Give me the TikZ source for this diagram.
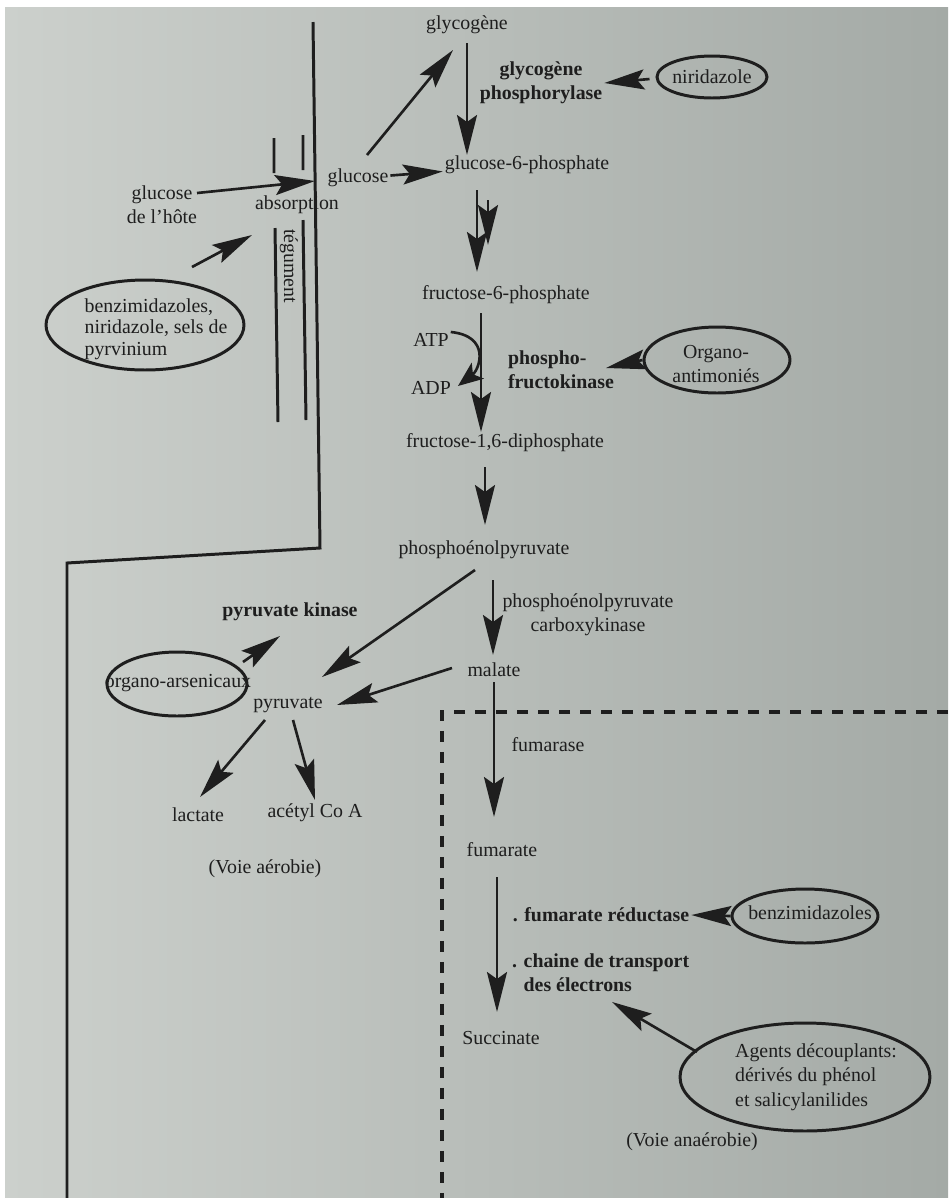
\documentclass[tikz,border=0pt]{standalone}
\usepackage{fontspec}
\setmainfont{Liberation Serif}
\usetikzlibrary{arrows.meta,calc,shapes.geometric}
\definecolor{paperl}{RGB}{204,208,204}
\definecolor{paperr}{RGB}{164,170,166}
\definecolor{ink}{RGB}{30,30,30}

\begin{document}
\begin{tikzpicture}[x=0.02cm,y=-0.02cm,
      >={Stealth[length=8mm,width=4mm,inset=1.4mm]},
      every node/.style={font=\fontsize{11.3}{13.5}\selectfont,text=ink,inner sep=1pt},
      enz/.style={font=\fontsize{11.3}{13.5}\selectfont\bfseries},
      drug/.style={ellipse,draw=ink,line width=1.7pt},
      arr/.style={->,color=ink,line width=1.5pt},
      wall/.style={draw=ink,line width=1.7pt},
      zone/.style={draw=ink,line width=2pt,dash pattern=on 0.22cm off 0.2cm}]
      \useasboundingbox (0,0) rectangle (948,1198);
      \fill[white] (0,0) rectangle (948,1198);
      \shade[left color=paperl,right color=paperr] (5,7) rectangle (948,1198);

      % host / parasite boundary and tegument
      \draw[wall] (313,22) -- (320,548) -- (67,563) -- (67,1198);
      \draw[wall] (274,138) -- (274,173) (275,228) -- (278,422);
      \draw[wall] (303,135) -- (303,170) (303,220) -- (306,420);
      \coordinate (entry) at (315,181);
      \draw[zone] (948,712) -- (442,712) -- (442,1198);

      \node (glycogene) at (467,25) {glycogène};
      \node[enz,align=center] (gphos) at (541,83) {glycogène\\phosphorylase};
      \node[drug,minimum width=2.2cm,minimum height=0.84cm] (niri) at (712,77) {};
      \node (niriT) at (niri) {niridazole};
      \node (glucose) at (358,178) {glucose};
      \node (g6p) at (527,165) {glucose-6-phosphate};
      \node[align=center] (hote) at (162,205) {glucose\\de l'hôte};
      \node (absorption) at (297,205) {absorption};
      \node[rotate=-90] (tegument) at (289,266) {tégument};
      \node[drug,minimum width=3.96cm,minimum height=1.8cm] (benz) at (145,325) {};
      \node[align=left,font=\fontsize{11.3}{12.2}\selectfont] (benzT) at (156,329)
        {benzimidazoles,\\niridazole, sels de\\pyrvinium};

      \node (f6p) at (506,295) {fructose-6-phosphate};
      \node (atp) at (431,340) {ATP};
      \node (adp) at (431,388) {ADP};
      \node[enz,align=left] (pfk) at (561,370) {phospho-\\fructokinase};
      \node[drug,minimum width=2.92cm,minimum height=1.32cm] (antim) at (717,360) {};
      \node[align=center] (antimT) at (716,364) {Organo-\\antimoniés};
      \node (f16) at (505,443) {fructose-1,6-diphosphate};
      \node (pep) at (484,550) {phosphoénolpyruvate};
      \node[align=center] (pepck) at (588,615) {phosphoénolpyruvate\\carboxykinase};
      \node (malate) at (494,670) {malate};

      \node[enz] (pk) at (290,612) {pyruvate kinase};
      \node[drug,minimum width=2.8cm,minimum height=1.28cm] (arsen) at (177,684) {};
      \node (arsenT) at (178,683) {organo-arsenicaux};
      \node (pyruvate) at (288,705) {pyruvate};
      \node (lactate) at (198,815) {lactate};
      \node (acetyl) at (315,813) {acétyl Co A};
      \node (aerobie) at (265,869) {(Voie aérobie)};

      \node (fumarase) at (548,745) {fumarase};
      \node (fumarate) at (502,850) {fumarate};
      \node[enz] (frd) at (601,915) {. fumarate réductase};
      \node[enz,align=left,anchor=west] (chain) at (510,973)
        {. chaine de transport\\\hphantom{. }des électrons};
      \node[drug,minimum width=2.92cm,minimum height=1.08cm] (benzb) at (805,916) {};
      \node (benzbT) at (810,913) {benzimidazoles};
      \node (succinate) at (501,1038) {Succinate};
      \node[drug,minimum width=5cm,minimum height=2.16cm] (agents) at (805,1077) {};
      \node[align=left,font=\fontsize{11.3}{14}\selectfont] (agentsT) at (816,1077)
        {Agents découplants:\\dérivés du phénol\\et salicylanilides};
      \node (anaerobie) at (692,1142) {(Voie anaérobie)};

      \path[arr]
      (glucose) edge (g6p)
      ($(glucose)+(9,-23)$) edge ($(glycogene)+(-14,25)$)
      ($(glycogene)+(0,18)$) edge ($(g6p)+(-60,-10)$)
      ($(niri.west)+(-6,2)$) edge (gphos.east)
      ($(hote)+(35,-12)$) edge (entry)
      ($(benz)+(47,-58)$) edge ($(absorption)+(-45,30)$)
      ($(g6p)+(-50,25)$) edge ($(f6p)+(-29,-23)$)
      ($(g6p)+(-39,35)$) edge ($(g6p)+(-39,80)$)
      ($(f6p)+(-25,18)$) edge ($(f16)+(-24,-11)$)
      (antim.west) edge ($(pfk.east)+(-10,-2)$)
      ($(f16)+(-20,24)$) edge ($(pep)+(1,-25)$)
      ($(pep)+(-9,20)$) edge ($(pyruvate)+(34,-28)$)
      ($(pep)+(9,30)$) edge ($(malate)+(-1,-15)$)
      ($(malate)+(-42,-2)$) edge ($(pyruvate)+(49,0)$)
      ($(arsen)+(66,-22)$) edge ($(pk)+(-10,24)$)
      ($(pyruvate)+(-23,15)$) edge ($(lactate)+(2,-18)$)
      ($(pyruvate)+(5,15)$) edge ($(acetyl)+(0,-13)$)
      ($(malate)+(0,12)$) edge ($(fumarate)+(-8,-33)$)
      ($(fumarate)+(-5,27)$) edge ($(succinate)+(-4,-26)$)
      (benzb.west) edge (frd.east)
      ($(agents)+(-108,-25)$) edge ($(chain.south west)+(102,8)$);

      \draw[draw=ink,line width=1.5pt,-{Stealth[length=5mm,width=4mm,inset=1.2mm]}]
        ($(atp.east)+(0,-8)$) .. controls +(40,4) and +(22,-17) .. ($(adp.east)+(5,-2)$);
\end{tikzpicture}
\end{document}
